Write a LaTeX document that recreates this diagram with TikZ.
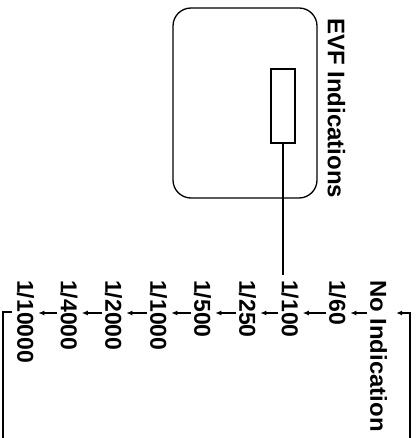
\documentclass[tikz,border=0pt]{standalone}
\usepackage{fontspec}
\setmainfont{Liberation Sans}
\usetikzlibrary{arrows.meta,calc}
\begin{document}
\begin{tikzpicture}[x=1pt,y=-1pt,
  lbl/.style={inner sep=0pt, rotate=-90, anchor=west, font=\fontsize{23}{26}\selectfont\bfseries},
  arr/.style={line width=1.2pt, -{Latex[length=6pt,width=5pt]}},
  loopline/.style={line width=1.6pt},
  box/.style={draw, line width=1.3pt, inner sep=0pt}]
\useasboundingbox (0,0) rectangle (417,438);
% EVF screen
\node[box, rounded corners=18pt, minimum width=144pt, minimum height=190pt] (scr) at (245,103) {};
\node[box, minimum width=24pt, minimum height=74pt] (ind) at (283,106) {};
\node[lbl, font=\fontsize{24}{28}\selectfont\bfseries] (evf) at (336.5,18) {EVF Indications};
% shutter speed columns
\node[lbl] (t0) at (25.5,280) {1/10000};
\node[lbl] (t1) at (69,280) {1/4000};
\node[lbl] (t2) at (113.5,280) {1/2000};
\node[lbl] (t3) at (158.5,280) {1/1000};
\node[lbl] (t4) at (202.5,280) {1/500};
\node[lbl] (t5) at (247.5,280) {1/250};
\node[lbl] (t6) at (290,280) {1/100};
\node[lbl] (t7) at (337.5,280) {1/60};
\node[lbl] (t8) at (378.5,280) {\scalebox{1.04}[1]{No Indication}};
% arrows between columns
\foreach \a/\b in {0/1,1/2,2/3,3/4,4/5,5/6,6/7,7/8}{
  \draw[arr] ($(t\b.south west)+(-3,33)$) -- ($(t\a.north west)+(4,33)$);
}
% pointer line
\draw[line width=1.3pt] (ind.south) -- ($(ind.south |- t6.west)+(0,-5)$);
% loop lines
\coordinate (rb) at (410,438);
\coordinate (lb) at (3,438);
\draw[loopline, -{Latex[length=6pt,width=5pt]}] (rb) |- ($(t8.north west)+(9,33)$);
\draw[loopline] ($(t0.south west)+(-5,32)$) -| (lb);
\end{tikzpicture}
\end{document}
